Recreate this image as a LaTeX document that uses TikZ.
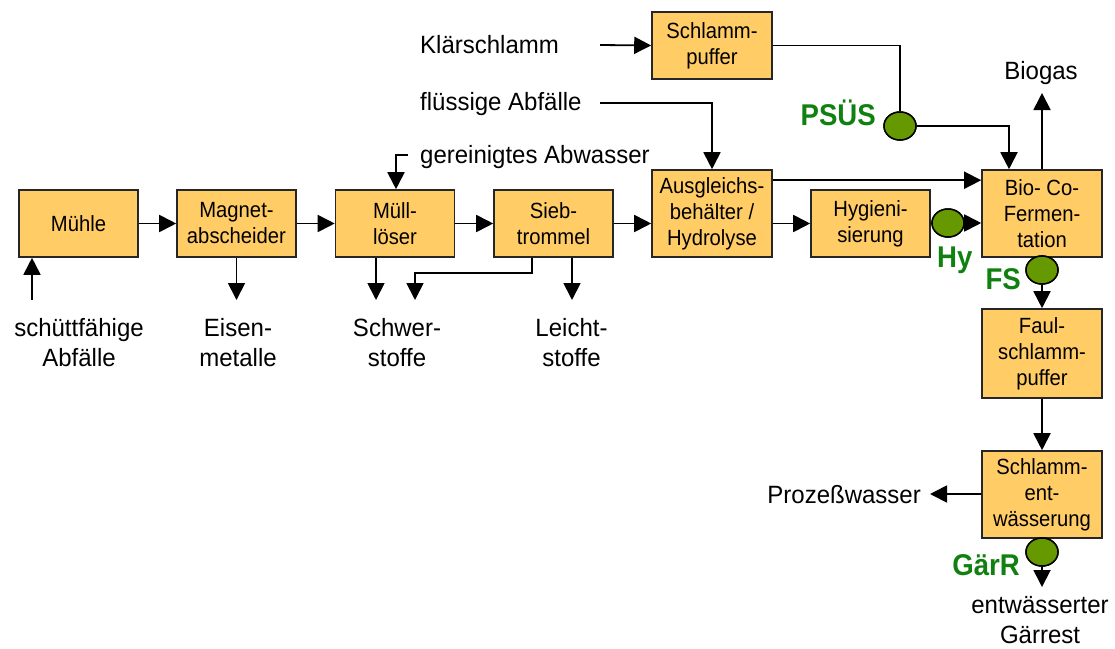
\documentclass[tikz,border=0pt]{standalone}
\usepackage{fontspec}
\setmainfont{Liberation Sans}
\newfontfamily\boxfont[FakeStretch=0.92]{Liberation Sans}
\newfontfamily\lblfont[FakeStretch=0.96]{Liberation Sans}
\newfontfamily\gfont[FakeStretch=0.92]{Liberation Sans}
\usetikzlibrary{arrows.meta,shapes.geometric,calc}
\definecolor{boxfill}{RGB}{255,204,102}
\definecolor{gfill}{RGB}{102,153,0}
\definecolor{gtext}{RGB}{16,128,16}
\begin{document}
\begin{tikzpicture}[x=1pt,y=-1pt,
  box/.style={draw=black!85,fill=boxfill,line width=1.6pt,inner sep=0pt,align=center,font=\boxfont\fontsize{22}{26}\selectfont},
  bsmall/.style={box,minimum width=119pt,minimum height=67pt},
  bbig/.style={box,minimum width=120pt,minimum height=87pt},
  valve/.style={ellipse,draw=black,fill=gfill,line width=1.5pt,minimum width=32pt,minimum height=28pt,inner sep=0pt},
  lbl/.style={inner sep=0pt,font=\lblfont\fontsize{25}{30}\selectfont,align=center},
  glbl/.style={inner sep=0pt,text=gtext,font=\gfont\fontsize{30}{30}\selectfont\bfseries},
  ln/.style={line width=1.8pt},
  arr/.style={line width=1.8pt,-{Triangle[length=17pt,width=17pt]}}]
\useasboundingbox (0,0) rectangle (1115,648);

% boxes
\node[bsmall] (muehle) at (78.5,223.5) {Mühle};
\node[bsmall] (magnet) at (236.5,223.5) {Magnet-\\abscheider};
\node[bsmall] (muell) at (395,223.5) {Müll-\\löser};
\node[bsmall] (sieb) at (553.5,223.5) {Sieb-\\trommel};
\node[bbig] (ausgl) at (712,213.5) {Ausgleichs-\\behälter /\\Hydrolyse};
\node[bsmall] (hyg) at (870.5,223.5) {Hygieni-\\sierung};
\node[bbig] (bio) at (1042,213.5) {Bio- Co-\\Fermen-\\tation};
\node[bsmall,minimum width=120pt] (spuffer) at (712,45.5) {Schlamm-\\puffer};
\node[box,minimum width=120pt,minimum height=89pt] (faul) at (1042,353.5) {Faul-\\schlamm-\\puffer};
\node[bbig] (sentw) at (1042,494.5) {Schlamm-\\ent-\\wässerung};

% valves
\node[valve] (psus) at (900,126) {};
\node[valve] (hy) at (948,223) {};
\node[valve] (fs) at (1042,270) {};
\node[valve] (gaerr) at (1042,552) {};

% green labels
\node[glbl,anchor=base east] (tpsus) at (876,125) {PSÜS};
\node[glbl,anchor=base west] (thy) at (937,267) {Hy};
\node[glbl,anchor=base east] (tfs) at (1021,289) {FS};
\node[glbl,anchor=base east] (tgaerr) at (1020,575) {GärR};

% text labels (base anchor = last line baseline)
\node[lbl,anchor=base] (schuett) at (79,366) {schüttfähige\\Abfälle};
\node[lbl,anchor=base] (eisen) at (238,366) {Eisen-\\metalle};
\node[lbl,anchor=base] (schwer) at (397,366) {Schwer-\\stoffe};
\node[lbl,anchor=base] (leicht) at (571.5,366) {Leicht-\\stoffe};
\node[lbl,anchor=base west] (klaer) at (420,53) {Klärschlamm};
\node[lbl,anchor=base west] (fluess) at (420,110) {flüssige Abfälle};
\node[lbl,anchor=base west] (abw) at (420,163) {gereinigtes Abwasser};
\node[lbl,anchor=base] (biogas) at (1041,79) {Biogas};
\node[lbl,anchor=base east] (proz) at (921,503) {Prozeßwasser};
\node[lbl,anchor=base] (gaerrest) at (1040,643) {entwässerter\\Gärrest};

% helper coordinates
\coordinate (cin) at (32,300);
\coordinate (cm) at (376,300);
\coordinate (cs1) at (532,273);
\coordinate (cs2) at (415,300);
\coordinate (cl) at (572,300);
\coordinate (cgs) at (408,155);
\coordinate (cg) at (396,155);
\coordinate (ck) at (600,45);
\coordinate (cf) at (600,103);
\coordinate (cbio) at (1009,126);
\coordinate (cbg) at (1042,93);
\coordinate (cgr) at (1042,587);
\coordinate (cpz) at (930,494);

% main line
\draw[arr] (cin) -- (cin |- muehle.south);
\draw[arr] (muehle.east) -- (magnet.west);
\draw[arr] (magnet.east) -- (muell.west);
\draw[arr] (muell.east) -- (sieb.west);
\draw[arr] (sieb.east) -- (sieb.east -| ausgl.west);
\draw[arr] (ausgl.east |- hyg.west) -- (hyg.west);
\draw[ln] (hyg.east) -- (hy.west);
\draw[arr] (hy.east) -- (hy.east -| bio.west);
\draw[arr] ($(ausgl.north east)+(0,11)$) -- ($(bio.north west)+(0,11)$);

% outputs below
\draw[arr] (magnet.south) -- (magnet.south |- cin);
\draw[arr] (cm |- muell.south) -- (cm);
\draw[arr] (cs1 |- sieb.south) -- (cs1) -| (cs2);
\draw[arr] (cl |- sieb.south) -- (cl);

% inputs above
\draw[arr] (cgs) -- (cg) -- (cg |- muell.north);
\draw[arr] (ck) -- (spuffer.west);
\draw[arr] (cf) -| (ausgl.north);
\draw[ln] (spuffer.east) -| (psus.north);
\draw[arr] (psus.east) -- (cbio) -- (cbio |- bio.north);
\draw[arr] (bio.north) -- (cbg);

% right column
\draw[ln] (bio.south) -- (fs.north);
\draw[arr] (fs.south) -- (faul.north);
\draw[arr] (faul.south) -- (sentw.north);
\draw[arr] (sentw.west |- cpz) -- (cpz);
\draw[arr] (gaerr.south) -- (cgr);

% redraw valves on top
\node[valve] at (psus) {};
\node[valve] at (hy) {};
\node[valve] at (fs) {};
\node[valve] at (gaerr) {};
\end{tikzpicture}
\end{document}
